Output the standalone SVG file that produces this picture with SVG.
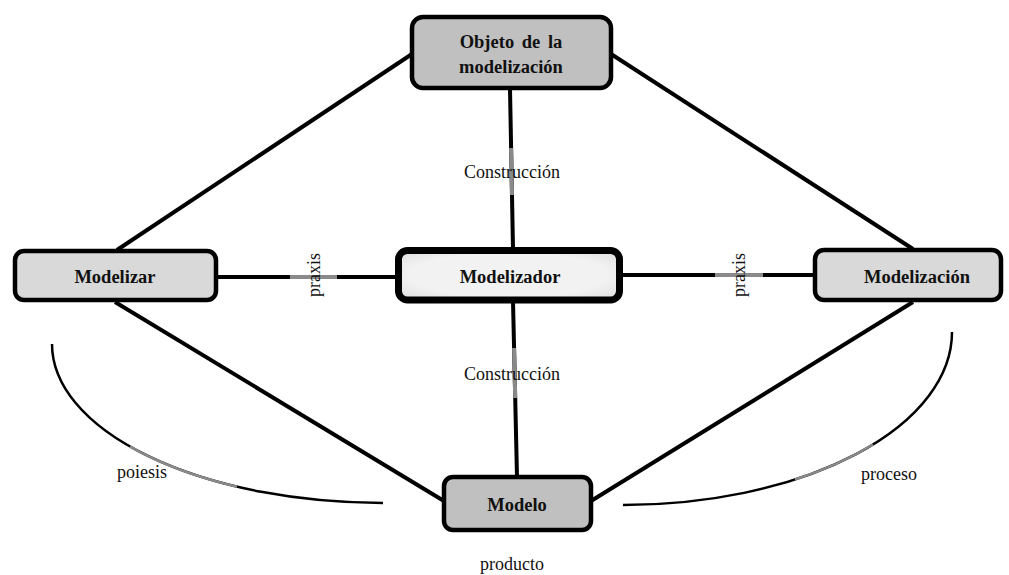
<svg xmlns="http://www.w3.org/2000/svg" width="1009" height="575" viewBox="0 0 1009 575">
<style>
.box{stroke:#000;stroke-width:4.5}
.lbl{font-family:"Liberation Serif","Times New Roman",serif;font-weight:bold;font-size:18.5px;fill:#111;text-anchor:middle}
.txt{font-family:"Liberation Serif","Times New Roman",serif;font-size:18px;fill:#111;text-anchor:middle}
.ln{stroke:#000;stroke-width:4;fill:none;stroke-linecap:butt}
.gr{stroke:#8a8a8a;stroke-width:4;fill:none}
.cv{stroke:#000;stroke-width:2.5;fill:none}
.cvg{stroke:#8a8a8a;stroke-width:2.6;fill:none}
</style>
<defs>
<radialGradient id="inner" cx="50%" cy="50%" r="75%">
<stop offset="0.6" stop-color="#f2f2f2"/>
<stop offset="1" stop-color="#d8d8d8"/>
</radialGradient>
</defs>
<g id="connectors">
<line class="ln" x1="412" y1="54" x2="117" y2="250"/>
<line class="ln" x1="611" y1="54" x2="913" y2="249"/>
<line class="ln" x1="115" y1="302" x2="444" y2="501"/>
<line class="ln" x1="913" y1="302" x2="591" y2="501"/>
<line class="ln" x1="217" y1="277" x2="398" y2="277"/>
<line class="gr" x1="290" y1="277" x2="337" y2="277"/>
<line class="ln" x1="621" y1="275" x2="815" y2="275"/>
<line class="gr" x1="715" y1="275" x2="763" y2="275"/>
<line class="ln" x1="510" y1="89" x2="513" y2="249"/>
<line class="gr" x1="511.1" y1="148" x2="512" y2="195"/>
<line class="ln" x1="513" y1="301" x2="517" y2="477"/>
<line class="gr" x1="514.1" y1="348" x2="515.2" y2="398"/>
<path class="cv" d="M52 344 A331 159 0 0 0 383 503"/>
<path class="cvg" d="M130 446.6 A331 159 0 0 0 237 486.7"/>
<path class="cv" d="M952 332 A329 173 0 0 1 623 505"/>
<path class="cvg" d="M873 444.5 A329 173 0 0 1 795 479.5"/>
<text class="txt" x="512" y="178">Construcción</text>
<text class="txt" x="512" y="380">Construcción</text>
<text class="txt" transform="translate(314,275) rotate(-90)" x="0" y="6">praxis</text>
<text class="txt" transform="translate(739,275) rotate(-90)" x="0" y="6">praxis</text>
<text class="txt" x="142" y="478">poiesis</text>
<text class="txt" x="889" y="480">proceso</text>
<text class="txt" x="512" y="570">producto</text>
</g>
<g id="objeto">
<rect class="box" x="412" y="17" width="199" height="71" rx="11" fill="#c0c0c0"/>
<text class="lbl" x="511" y="48" word-spacing="3">Objeto de la</text>
<text class="lbl" x="511" y="73">modelización</text>
</g>
<g id="modelizar">
<rect class="box" x="15" y="251" width="201" height="49" rx="9" fill="#d9d9d9"/>
<text class="lbl" x="115" y="283">Modelizar</text>
</g>
<g id="modelizador">
<rect x="398.5" y="250.5" width="221" height="49.5" rx="9" fill="url(#inner)" stroke="#000" stroke-width="7"/>
<text class="lbl" x="510" y="283">Modelizador</text>
</g>
<g id="modelizacion">
<rect class="box" x="815" y="250" width="186" height="50" rx="9" fill="#d9d9d9"/>
<text class="lbl" x="917" y="283">Modelización</text>
</g>
<g id="modelo">
<rect class="box" x="444" y="477" width="147" height="53" rx="9" fill="#c0c0c0"/>
<text class="lbl" x="517" y="511">Modelo</text>
</g>
</svg>
